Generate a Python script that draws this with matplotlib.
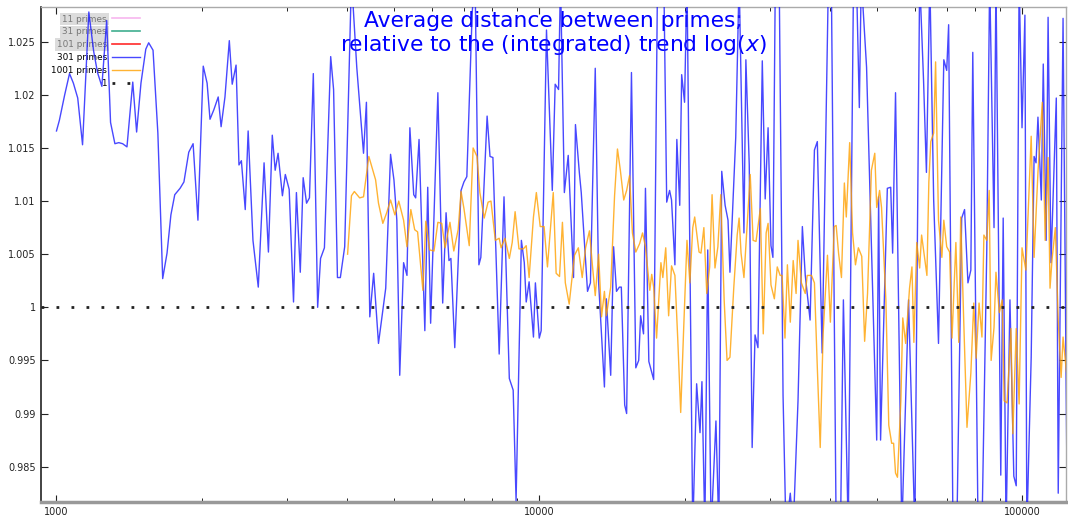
import numpy as np
import matplotlib
matplotlib.use('Agg')
import matplotlib.pyplot as plt
from matplotlib.lines import Line2D
from matplotlib.ticker import LogLocator, NullFormatter

# samples: log10(x) and ratio to the trend
log_x_301 = [
    3.000, 3.006, 3.017, 3.027, 3.035, 3.044, 3.054, 3.067, 3.077, 3.085,
    3.094, 3.104, 3.112, 3.121, 3.129, 3.137, 3.146, 3.158, 3.166, 3.175,
    3.185, 3.191, 3.200, 3.210, 3.220, 3.229, 3.237, 3.245, 3.256, 3.264,
    3.274, 3.283, 3.293, 3.304, 3.312, 3.318, 3.326, 3.335, 3.341, 3.349,
    3.358, 3.364, 3.372, 3.378, 3.383, 3.391, 3.397, 3.407, 3.418, 3.430,
    3.439, 3.447, 3.453, 3.459, 3.468, 3.474, 3.482, 3.491, 3.497, 3.505,
    3.511, 3.518, 3.524, 3.532, 3.541, 3.547, 3.555, 3.568, 3.574, 3.582,
    3.588, 3.597, 3.611, 3.622, 3.636, 3.642, 3.649, 3.657, 3.667, 3.682,
    3.692, 3.699, 3.705, 3.711, 3.719, 3.726, 3.732, 3.740, 3.744, 3.751,
    3.763, 3.769, 3.775, 3.790, 3.800, 3.807, 3.813, 3.817, 3.825, 3.838,
    3.844, 3.850, 3.861, 3.867, 3.875, 3.879, 3.892, 3.898, 3.904, 3.917,
    3.927, 3.938, 3.946, 3.952, 3.963, 3.969, 3.973, 3.979, 3.988, 3.992,
    4.000, 4.004, 4.015, 4.027, 4.033, 4.040, 4.044, 4.052, 4.060, 4.071,
    4.075, 4.083, 4.087, 4.100, 4.106, 4.116, 4.123, 4.135, 4.139, 4.148,
    4.154, 4.160, 4.166, 4.170, 4.177, 4.181, 4.191, 4.200, 4.206, 4.210,
    4.216, 4.220, 4.227, 4.237, 4.245, 4.258, 4.264, 4.270, 4.274, 4.281,
    4.285, 4.291, 4.295, 4.301, 4.306, 4.318, 4.326, 4.333, 4.337, 4.343,
    4.349, 4.356, 4.366, 4.372, 4.378, 4.385, 4.391, 4.395, 4.407, 4.414,
    4.424, 4.428, 4.435, 4.441, 4.447, 4.453, 4.462, 4.468, 4.474, 4.480,
    4.484, 4.489, 4.497, 4.505, 4.511, 4.520, 4.526, 4.536, 4.545, 4.551,
    4.561, 4.570, 4.576, 4.586, 4.599, 4.605, 4.615, 4.624, 4.630, 4.640,
    4.651, 4.657, 4.663, 4.667, 4.678, 4.699, 4.703, 4.707, 4.721, 4.728,
    4.732, 4.738, 4.751, 4.765, 4.778, 4.788, 4.796, 4.802, 4.809, 4.817,
    4.827, 4.838, 4.844, 4.848, 4.857, 4.865, 4.875, 4.881, 4.888, 4.894,
    4.898, 4.909, 4.917, 4.927, 4.933, 4.942, 4.946, 4.956, 4.961, 4.967,
    4.975, 4.983, 4.988, 4.994, 5.000, 5.006, 5.010, 5.019, 5.025, 5.029,
    5.033, 5.040, 5.044, 5.050, 5.054, 5.060, 5.071, 5.075, 5.085, 5.094,
    5.100,
]
ratio_301 = [
    1.0166, 1.0176, 1.0200, 1.0220, 1.0211, 1.0197, 1.0153, 1.0278, 1.0241, 1.0221,
    1.0208, 1.0270, 1.0174, 1.0154, 1.0155, 1.0154, 1.0151, 1.0212, 1.0165, 1.0211,
    1.0243, 1.0249, 1.0242, 1.0164, 1.0027, 1.0051, 1.0087, 1.0106, 1.0112, 1.0118,
    1.0146, 1.0154, 1.0082, 1.0227, 1.0211, 1.0177, 1.0186, 1.0198, 1.0170, 1.0198,
    1.0251, 1.0210, 1.0228, 1.0134, 1.0138, 1.0092, 1.0166, 1.0063, 1.0019, 1.0136,
    1.0052, 1.0162, 1.0129, 1.0145, 1.0105, 1.0125, 1.0111, 1.0005, 1.0108, 1.0033,
    1.0122, 1.0098, 1.0103, 1.0220, 1.0000, 1.0046, 1.0056, 1.0236, 1.0205, 1.0028,
    1.0028, 1.0057, 1.0310, 1.0226, 1.0145, 1.0193, 0.9991, 1.0032, 0.9966, 1.0018,
    1.0144, 1.0120, 1.0082, 0.9936, 1.0042, 1.0030, 1.0169, 1.0106, 1.0103, 1.0158,
    0.9978, 1.0113, 0.9985, 1.0202, 1.0004, 1.0089, 1.0044, 1.0046, 0.9962, 1.0110,
    1.0118, 1.0123, 1.0277, 1.0310, 1.0040, 1.0047, 1.0180, 1.0142, 1.0141, 0.9956,
    1.0104, 0.9933, 0.9922, 0.9818, 1.0063, 1.0042, 1.0005, 1.0024, 0.9972, 1.0023,
    0.9971, 0.9978, 1.0261, 1.0110, 1.0210, 1.0205, 1.0310, 1.0108, 1.0143, 1.0028,
    1.0172, 1.0127, 1.0108, 1.0015, 1.0023, 1.0225, 1.0023, 0.9925, 1.0008, 0.9936,
    1.0057, 1.0015, 1.0019, 1.0019, 0.9908, 0.9900, 1.0221, 0.9943, 0.9950, 0.9992,
    0.9975, 1.0112, 0.9949, 0.9932, 1.0310, 1.0310, 1.0099, 1.0110, 1.0101, 1.0040,
    1.0158, 1.0096, 1.0219, 1.0193, 1.0310, 0.9790, 0.9928, 0.9882, 0.9930, 0.9790,
    1.0054, 0.9790, 0.9893, 0.9790, 1.0128, 1.0096, 1.0082, 1.0033, 1.0160, 1.0310,
    1.0070, 1.0233, 1.0134, 0.9868, 0.9974, 0.9962, 1.0232, 1.0102, 1.0169, 1.0058,
    1.0047, 1.0310, 1.0310, 0.9917, 0.9790, 0.9825, 0.9790, 0.9912, 1.0076, 1.0030,
    0.9988, 1.0148, 1.0156, 0.9957, 1.0310, 1.0310, 0.9790, 0.9790, 1.0007, 0.9790,
    1.0310, 1.0310, 1.0188, 1.0310, 1.0226, 0.9875, 1.0104, 0.9875, 1.0112, 1.0113,
    1.0051, 1.0202, 0.9790, 1.0007, 0.9790, 1.0310, 1.0214, 1.0127, 1.0310, 1.0101,
    0.9966, 1.0233, 1.0223, 1.0266, 0.9790, 0.9790, 1.0084, 1.0092, 1.0023, 1.0035,
    1.0240, 0.9790, 0.9790, 1.0054, 1.0310, 1.0075, 1.0310, 0.9842, 1.0084, 0.9790,
    1.0007, 0.9841, 0.9832, 1.0310, 1.0169, 1.0275, 0.9790, 0.9953, 1.0142, 1.0136,
    1.0179, 1.0101, 1.0229, 1.0063, 1.0273, 1.0042, 1.0197, 0.9825, 1.0272, 0.9790,
    0.9945,
]

log_x_1001 = [
    3.603, 3.611, 3.617, 3.628, 3.636, 3.647, 3.661, 3.667, 3.676, 3.684,
    3.692, 3.701, 3.709, 3.719, 3.726, 3.734, 3.742, 3.748, 3.759, 3.765,
    3.773, 3.782, 3.790, 3.798, 3.805, 3.815, 3.823, 3.832, 3.838, 3.844,
    3.855, 3.863, 3.871, 3.877, 3.886, 3.894, 3.900, 3.909, 3.917, 3.921,
    3.929, 3.938, 3.944, 3.950, 3.958, 3.967, 3.973, 3.979, 3.988, 3.994,
    4.002, 4.010, 4.017, 4.029, 4.035, 4.042, 4.048, 4.054, 4.062, 4.073,
    4.081, 4.089, 4.096, 4.104, 4.110, 4.116, 4.123, 4.129, 4.135, 4.139,
    4.148, 4.156, 4.162, 4.168, 4.175, 4.181, 4.187, 4.193, 4.200, 4.208,
    4.214, 4.220, 4.229, 4.233, 4.237, 4.243, 4.252, 4.256, 4.262, 4.268,
    4.274, 4.281, 4.287, 4.293, 4.299, 4.306, 4.312, 4.318, 4.322, 4.331,
    4.335, 4.341, 4.347, 4.353, 4.358, 4.364, 4.370, 4.376, 4.383, 4.389,
    4.395, 4.403, 4.410, 4.414, 4.418, 4.424, 4.437, 4.443, 4.449, 4.458,
    4.464, 4.470, 4.474, 4.480, 4.487, 4.493, 4.499, 4.503, 4.509, 4.514,
    4.520, 4.526, 4.532, 4.536, 4.543, 4.551, 4.555, 4.564, 4.570, 4.576,
    4.582, 4.588, 4.597, 4.603, 4.611, 4.615, 4.620, 4.626, 4.632, 4.636,
    4.643, 4.649, 4.655, 4.661, 4.668, 4.674, 4.680, 4.688, 4.695, 4.699,
    4.705, 4.709, 4.718, 4.724, 4.730, 4.734, 4.738, 4.742, 4.749, 4.753,
    4.759, 4.767, 4.772, 4.776, 4.782, 4.788, 4.792, 4.803, 4.807, 4.811,
    4.817, 4.821, 4.827, 4.834, 4.838, 4.844, 4.850, 4.855, 4.863, 4.869,
    4.873, 4.879, 4.886, 4.894, 4.900, 4.905, 4.911, 4.917, 4.921, 4.927,
    4.932, 4.936, 4.942, 4.946, 4.953, 4.959, 4.963, 4.969, 4.977, 4.981,
    4.988, 4.994, 5.000, 5.008, 5.019, 5.025, 5.033, 5.042, 5.048, 5.054,
    5.058, 5.062, 5.069, 5.075, 5.081, 5.085, 5.092, 5.096, 5.102,
]
ratio_1001 = [
    1.0050, 1.0105, 1.0109, 1.0103, 1.0104, 1.0142, 1.0120, 1.0098, 1.0079, 1.0089,
    1.0101, 1.0087, 1.0100, 1.0082, 1.0057, 1.0092, 1.0073, 1.0071, 1.0016, 1.0081,
    1.0054, 1.0053, 1.0080, 1.0079, 1.0056, 1.0080, 1.0053, 1.0073, 1.0109, 1.0093,
    1.0058, 1.0150, 1.0142, 1.0108, 1.0084, 1.0099, 1.0100, 1.0063, 1.0065, 1.0056,
    1.0065, 1.0046, 1.0061, 1.0090, 1.0055, 1.0055, 1.0058, 1.0028, 1.0085, 1.0108,
    1.0076, 1.0076, 1.0038, 1.0108, 1.0032, 1.0029, 1.0080, 1.0023, 1.0003, 1.0049,
    1.0056, 1.0028, 1.0056, 1.0072, 1.0040, 1.0011, 1.0050, 0.9991, 1.0015, 0.9992,
    1.0019, 1.0105, 1.0149, 1.0129, 1.0101, 1.0110, 1.0124, 1.0070, 1.0052, 1.0060,
    1.0070, 1.0057, 1.0016, 1.0031, 1.0019, 0.9971, 1.0042, 1.0028, 1.0056, 0.9992,
    1.0039, 1.0030, 0.9969, 0.9901, 0.9978, 1.0063, 1.0023, 1.0075, 1.0085, 1.0052,
    1.0051, 1.0075, 1.0013, 1.0038, 1.0106, 1.0037, 1.0057, 1.0106, 1.0007, 0.9950,
    0.9953, 1.0019, 1.0068, 1.0084, 1.0051, 1.0028, 1.0125, 1.0063, 1.0062, 1.0093,
    0.9975, 1.0070, 1.0079, 1.0021, 1.0008, 1.0038, 1.0030, 1.0030, 0.9971, 1.0040,
    0.9986, 1.0044, 1.0013, 1.0063, 1.0023, 1.0013, 1.0030, 1.0030, 1.0023, 0.9943,
    0.9868, 0.9975, 1.0049, 0.9986, 1.0076, 1.0077, 1.0051, 1.0028, 1.0117, 1.0085,
    1.0155, 1.0070, 1.0040, 1.0056, 1.0048, 0.9968, 1.0013, 1.0129, 1.0145, 1.0094,
    1.0110, 1.0094, 1.0007, 0.9889, 0.9872, 0.9872, 0.9844, 0.9840, 0.9912, 0.9990,
    0.9966, 1.0018, 1.0038, 0.9967, 1.0061, 1.0037, 1.0068, 1.0030, 1.0118, 1.0156,
    1.0164, 1.0231, 1.0082, 1.0047, 1.0082, 1.0057, 1.0052, 0.9971, 1.0061, 0.9967,
    1.0085, 0.9991, 0.9887, 0.9938, 1.0004, 0.9952, 1.0004, 0.9972, 1.0068, 1.0063,
    1.0110, 0.9950, 0.9981, 1.0033, 0.9995, 1.0007, 0.9912, 0.9910, 0.9980, 0.9881,
    0.9980, 0.9909, 1.0056, 1.0035, 1.0161, 1.0047, 1.0127, 1.0193, 1.0063, 1.0141,
    1.0018, 1.0044, 1.0075, 0.9988, 0.9934, 0.9972, 0.9939, 0.9952, 0.9950,
]

legend_labels = ['11 primes', '31 primes', '101 primes', '301 primes', '1001 primes', '1']
y_ticks = [0.985, 0.99, 0.995, 1, 1.005, 1.01, 1.015, 1.02, 1.025]
x_ticks = [1000, 10000, 100000]

x301 = 10 ** np.array(log_x_301)
x1001 = 10 ** np.array(log_x_1001)

W, H = 1068, 522
fig = plt.figure(figsize=(W / 100, H / 100), dpi=100)
ax = fig.add_axes([40.5 / W, 20.3 / H, 1025.5 / W, 494.4 / H])
ax.set_xscale('log')

l301, = ax.plot(x301, ratio_301, color='#1a1aff', lw=1.0, alpha=0.8, zorder=3)
l1001, = ax.plot(x1001, ratio_1001, color='#ffa000', lw=1.0, alpha=0.8, zorder=4)
lone = ax.axhline(1, color='#222222', lw=2.0, ls=(0, (1, 4.4)), zorder=5)

ax.set_xlim(10 ** 2.9669, 10 ** 5.0911)
ax.set_ylim(0.98170, 1.02824)

ax.set_xticks(x_ticks, labels=[str(v) for v in x_ticks])
ax.xaxis.set_minor_locator(LogLocator(base=10, subs=range(2, 10)))
ax.xaxis.set_minor_formatter(NullFormatter())
ax.set_yticks(y_ticks, labels=['%g' % v for v in y_ticks])
ax.tick_params(which='both', direction='in', top=True, right=True,
               labelsize=7, colors='#222222', pad=3.5)
ax.tick_params(which='major', length=5, width=0.8)
ax.tick_params(which='minor', length=3, width=0.7)

for side, col, lw in [('left', '#222222', 1.2), ('bottom', '#999999', 2.5),
                      ('top', '#aaaaaa', 1.0), ('right', '#aaaaaa', 1.0)]:
    ax.spines[side].set_color(col)
    ax.spines[side].set_linewidth(lw)

ax.text(0.5, 0.993, 'Average distance between primes;\nrelative to the (integrated) trend log($x$)',
        transform=ax.transAxes, ha='center', va='top', color='#0000ff',
        fontsize=15.7, linespacing=1.15, zorder=2)

handles = [Line2D([], [], color='#f7b6ef', lw=1.2),
           Line2D([], [], color='#3fae8f', lw=1.2),
           Line2D([], [], color='#ff2a2a', lw=1.2),
           l301, l1001, lone]
leg = ax.legend(handles, legend_labels, loc='upper left',
                bbox_to_anchor=((51 - 40.5) / 1025.5, 1 - (14.5 - 7.3) / 494.4),
                markerfirst=False, frameon=False, fontsize=6.4, handlelength=3.15,
                handletextpad=0.56, labelspacing=0.43, borderpad=0, borderaxespad=0)
leg.set_zorder(1)
for t in leg.get_texts()[:3]:
    t.set_color('#777777')
    t.set_bbox(dict(facecolor='#dcdcdc', edgecolor='none', pad=1.3))

fig.savefig('out.png', dpi=100)
